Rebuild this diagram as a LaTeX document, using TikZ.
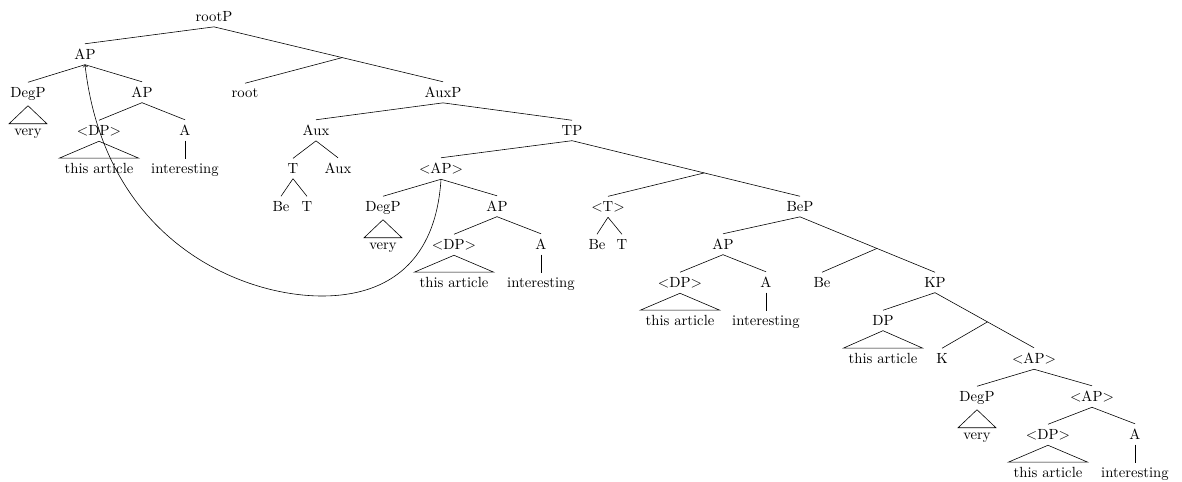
\documentclass[tikz,border=0pt]{standalone}
\usetikzlibrary{calc}
\begin{document}
\begin{tikzpicture}[
		x=0.68pt, y=-0.68pt,
		every node/.style={anchor=base},
		move/.style={->},
	]
	\useasboundingbox (0,0) rectangle (1182,482);

	% labels, one row every 38 units
	\node (rootP) at (214, 21.5)  {rootP};
	\node (apA)   at (85, 59.5)   {AP};
	\node (degpA) at (28, 97.5)   {DegP};
	\node (apAb)  at (142, 97.5)  {AP};
	\node (root)  at (245, 97.5)  {root};
	\node (auxP)  at (443, 97.5)  {AuxP};
	\node (veryA) at (28, 135.5)  {very};
	\node (dpA)   at (99, 135.5)  {$<$DP$>$};
	\node (aA)    at (185, 135.5) {A};
	\node (aux)   at (316, 135.5) {Aux};
	\node (tP)    at (572, 135.5) {TP};
	\node (artA)  at (99, 173.5)  {this article};
	\node (intA)  at (185, 173.5) {interesting};
	\node (tA)    at (293, 173.5) {T};
	\node (auxB)  at (338, 173.5) {Aux};
	\node (apB)   at (441, 173.5) {$<$AP$>$};
	\node (beA)   at (281, 211.5) {Be};
	\node (tB)    at (307, 211.5) {T};
	\node (degpB) at (383, 211.5) {DegP};
	\node (apBb)  at (497, 211.5) {AP};
	\node (tC)    at (608, 211.5) {$<$T$>$};
	\node (beP)   at (800, 211.5) {BeP};
	\node (veryB) at (383, 249.5) {very};
	\node (dpB)   at (454, 249.5) {$<$DP$>$};
	\node (aB)    at (541, 249.5) {A};
	\node (beB)   at (597, 249.5) {Be};
	\node (tD)    at (622, 249.5) {T};
	\node (apC)   at (723, 249.5) {AP};
	\node (artB)  at (454, 287.5) {this article};
	\node (intB)  at (541, 287.5) {interesting};
	\node (dpC)   at (680, 287.5) {$<$DP$>$};
	\node (aC)    at (766, 287.5) {A};
	\node (beC)   at (822, 287.5) {Be};
	\node (kP)    at (935, 287.5) {KP};
	\node (artC)  at (680, 325.5) {this article};
	\node (intC)  at (766, 325.5) {interesting};
	\node (dpD)   at (883, 325.5) {DP};
	\node (artD)  at (883, 363.5) {this article};
	\node (k)     at (942, 363.5) {K};
	\node (apD)   at (1034, 363.5) {$<$AP$>$};
	\node (degpD) at (977, 401.5) {DegP};
	\node (apDb)  at (1092, 401.5) {$<$AP$>$};
	\node (veryD) at (977, 439.5) {very};
	\node (dpE)   at (1048, 439.5) {$<$DP$>$};
	\node (aE)    at (1135, 439.5) {A};
	\node (artE)  at (1048, 477.5) {this article};
	\node (intE)  at (1135, 477.5) {interesting};

	% joints on the long branches
	\coordinate (jA) at ($(rootP.south)!0.56!(auxP.north)$);
	\coordinate (jB) at ($(tP.south)!0.58!(beP.north)$);
	\coordinate (jC) at ($(beP.south)!0.57!(kP.north)$);
	\coordinate (jD) at ($(kP.south)!0.53!(apD.north)$);

	\draw (rootP.south) -- (apA.north);
	\draw (rootP.south) -- (auxP.north);
	\draw (root.north) -- (jA);
	\draw (apA.south) -- (degpA.north);
	\draw (apA.south) -- (apAb.north);
	\draw (apAb.south) -- (dpA.north);
	\draw (apAb.south) -- (aA.north);
	\draw (aA.south) -- (intA.north);
	\draw (auxP.south) -- (aux.north);
	\draw (auxP.south) -- (tP.north);
	\draw (aux.south) -- (tA.north);
	\draw (aux.south) -- (auxB.north);
	\draw (tA.south) -- (beA.north);
	\draw (tA.south) -- (tB.north);
	\draw (tP.south) -- (apB.north);
	\draw (tP.south) -- (beP.north);
	\draw (tC.north) -- (jB);
	\draw (apB.south) -- (degpB.north);
	\draw (apB.south) -- (apBb.north);
	\draw (apBb.south) -- (dpB.north);
	\draw (apBb.south) -- (aB.north);
	\draw (aB.south) -- (intB.north);
	\draw (tC.south) -- (beB.north);
	\draw (tC.south) -- (tD.north);
	\draw (beP.south) -- (apC.north);
	\draw (beP.south) -- (kP.north);
	\draw (beC.north) -- (jC);
	\draw (apC.south) -- (dpC.north);
	\draw (apC.south) -- (aC.north);
	\draw (aC.south) -- (intC.north);
	\draw (kP.south) -- (dpD.north);
	\draw (kP.south) -- (apD.north);
	\draw (k.north) -- (jD);
	\draw (apD.south) -- (degpD.north);
	\draw (apD.south) -- (apDb.north);
	\draw (apDb.south) -- (dpE.north);
	\draw (apDb.south) -- (aE.north);
	\draw (aE.south) -- (intE.north);

	% roofs
	\draw (degpA.south) -- (veryA.north west) -- (veryA.north east) -- cycle;
	\draw (dpA.south) -- (artA.north west) -- (artA.north east) -- cycle;
	\draw (degpB.south) -- (veryB.north west) -- (veryB.north east) -- cycle;
	\draw (dpB.south) -- (artB.north west) -- (artB.north east) -- cycle;
	\draw (dpC.south) -- (artC.north west) -- (artC.north east) -- cycle;
	\draw (dpD.south) -- (artD.north west) -- (artD.north east) -- cycle;
	\draw (degpD.south) -- (veryD.north west) -- (veryD.north east) -- cycle;
	\draw (dpE.south) -- (artE.north west) -- (artE.north east) -- cycle;

	% movement
	\coordinate (low) at (322,296);
	\draw[move] (apB.south) .. controls (436,260) and (390,296) .. (low)
		.. controls (240,296) and (105,240) .. (apA.south);
\end{tikzpicture}
\end{document}
